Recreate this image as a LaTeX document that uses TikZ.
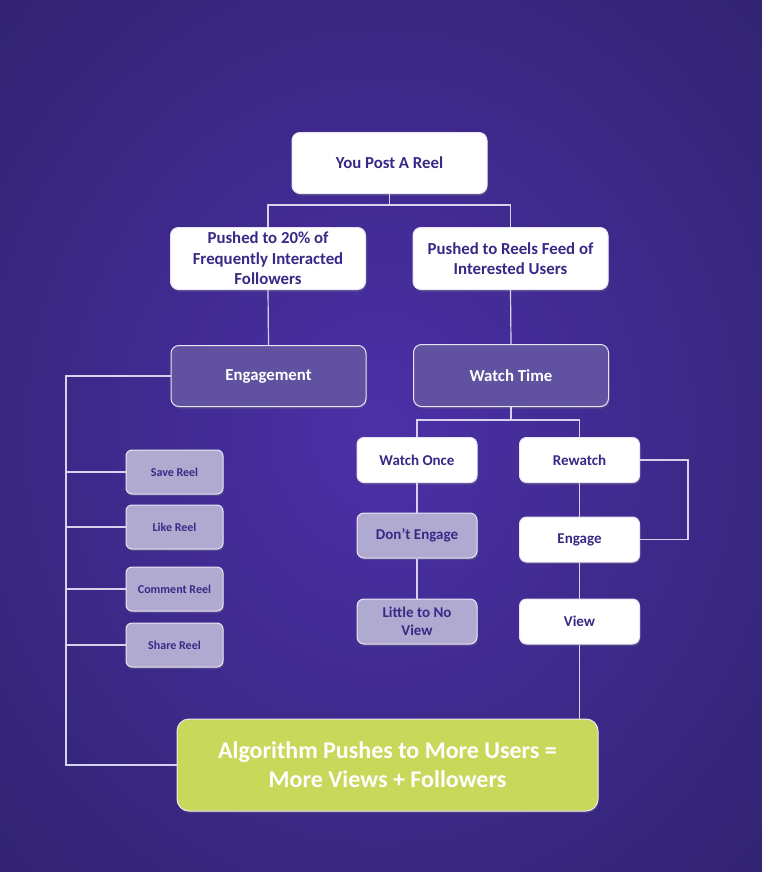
\documentclass[tikz,border=0pt]{standalone}
\usepackage{fontspec}
\setmainfont{Carlito}
\usetikzlibrary{shadows}
\definecolor{bgin}{RGB}{76,48,168}
\definecolor{bgmid}{RGB}{54,38,124}
\definecolor{bgout}{RGB}{44,32,100}
\definecolor{txt}{RGB}{58,40,135}
\definecolor{midbox}{RGB}{96,82,160}
\definecolor{lav}{RGB}{176,170,208}
\definecolor{lime}{RGB}{200,216,90}
\definecolor{ln}{RGB}{214,210,238}
\definecolor{bord}{RGB}{232,230,245}
\pgfdeclareradialshading{bgshade}{\pgfpoint{0bp}{0bp}}{color(0bp)=(bgin); color(28bp)=(bgmid); color(50bp)=(bgout); color(72bp)=(bgout)}
\begin{document}
\begin{tikzpicture}[x=1pt,y=-1pt,
  box/.style={draw=bord, line width=1pt, rounded corners=8pt, align=center,
    inner sep=2pt, drop shadow={opacity=0.3,shadow xshift=1pt,shadow yshift=-2pt}},
  whitebox/.style={box, fill=white, text=txt},
  darkbox/.style={box, fill=midbox, text=white},
  lavbox/.style={box, fill=lav, text=txt},
  big/.style={minimum width=195pt, minimum height=61pt, font=\bfseries\fontsize{16.8}{20.5}\selectfont},
  med/.style={minimum width=120pt, minimum height=45pt, rounded corners=7pt, font=\bfseries\fontsize{15}{18}\selectfont},
  small/.style={minimum width=97pt, minimum height=44pt, rounded corners=6pt, font=\bfseries\fontsize{12}{14}\selectfont},
  conn/.style={draw=ln, line width=1.2pt}]
\shade[shading=bgshade] (0,0) rectangle (762,872);
\useasboundingbox (0,0) rectangle (762,872);

\node[whitebox,big] (post) at (389.5,163) {You Post A Reel};
\node[whitebox,big,minimum height=62pt] (p20) at (268,258.5) {Pushed to 20\% of\\Frequently Interacted\\Followers};
\node[whitebox,big,minimum height=62pt] (feed) at (510.5,258.5) {Pushed to Reels Feed of\\Interested Users};
\node[darkbox,big] (eng) at (268.5,376) {Engagement};
\node[darkbox,big,minimum height=62pt] (wt) at (511,375.5) {Watch Time};

\node[lavbox,small] (save) at (174.5,472) {Save Reel};
\node[lavbox,small] (like) at (174.5,527) {Like Reel};
\node[lavbox,small] (comm) at (174.5,589) {Comment Reel};
\node[lavbox,small] (share) at (174.5,645) {Share Reel};

\node[whitebox,med] (once) at (417,460) {Watch Once};
\node[whitebox,med] (rew) at (579.5,460) {Rewatch};
\node[lavbox,med] (dont) at (417,535.5) {Don’t Engage};
\node[whitebox,med] (engg) at (579.5,539.5) {Engage};
\node[lavbox,med] (little) at (417,621.5) {Little to No\\View};
\node[whitebox,med] (view) at (579.5,621.5) {View};

\node[box, fill=lime, text=white, minimum width=421pt, minimum height=92pt, rounded corners=12pt,
  font=\bfseries\fontsize{24}{29}\selectfont] (alg) at (387.5,765) {Algorithm Pushes to More Users =\\More Views + Followers};

\coordinate (top) at (389.5,205);
\coordinate (sp) at (511,420);
\coordinate (lx) at (66,765);
\coordinate (rx) at (688,0);

\path[conn] (post.south) -- (post.south |- top);
\path[conn] (p20.north) |- (top) -| (feed.north);
\path[conn] (p20.south) -- (eng.north);
\path[conn] (feed.south) -- (wt.north);
\path[conn] (wt.south) -- (wt.south |- sp);
\path[conn] (once.north) |- (sp) -| (rew.north);
\path[conn] (once.south) -- (dont.north);
\path[conn] (dont.south) -- (little.north);
\path[conn] (rew.south) -- (engg.north);
\path[conn] (engg.south) -- (view.north);
\path[conn] (rew.east) -| (rx |- engg.east) -- (engg.east);
\path[conn] (view.south) -- (view.south |- alg.north);
\path[conn] (eng.west) -| (lx) -- (alg.west);
\path[conn] (save.west) -- (save.west -| lx);
\path[conn] (like.west) -- (like.west -| lx);
\path[conn] (comm.west) -- (comm.west -| lx);
\path[conn] (share.west) -- (share.west -| lx);
\end{tikzpicture}
\end{document}
